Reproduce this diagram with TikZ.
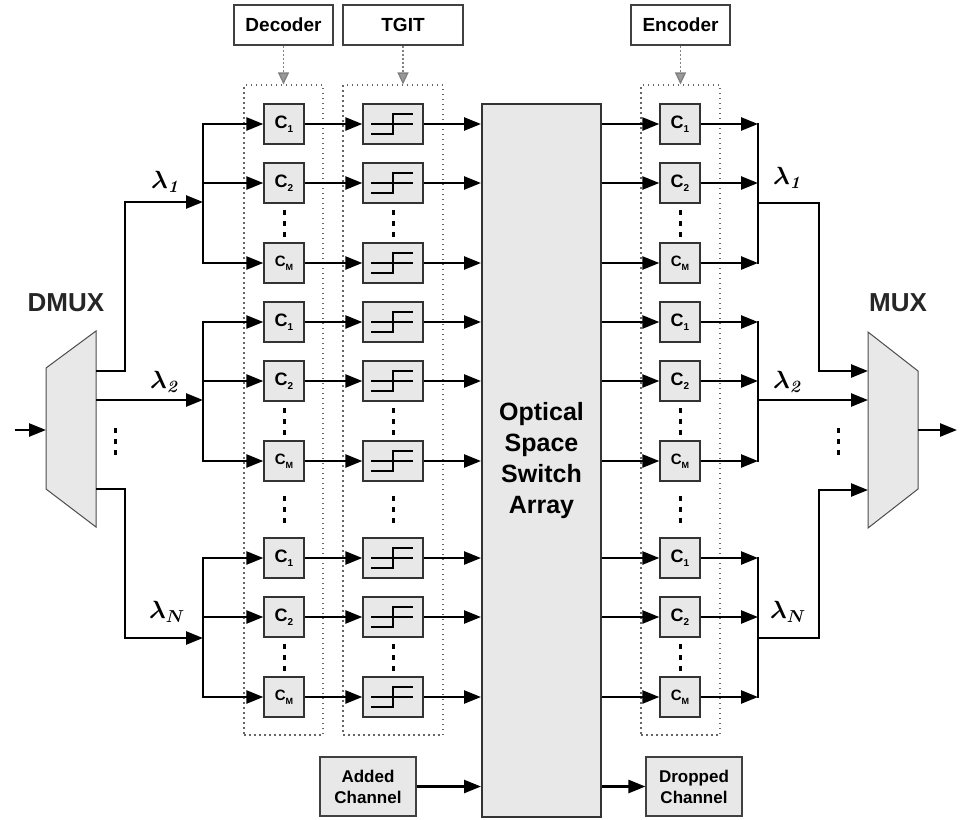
\documentclass[tikz,border=0pt]{standalone}
\usepackage[no-math]{fontspec}
\setmainfont{Liberation Sans}
\usepackage{xcolor}
\usepackage{tikz}
\usetikzlibrary{calc}
\usetikzlibrary{arrows.meta}

\newcommand{\codeC}[1]{{\fontsize{18}{18}\selectfont\bfseries C\raisebox{-4pt}{\fontsize{10}{10}\selectfont #1}}}
\newcommand{\codeCM}{{\fontsize{15}{15}\selectfont\bfseries C\raisebox{-4pt}{\fontsize{9}{9}\selectfont M}}}

\tikzset{
  cbox/.style={draw=black!80, line width=1.3pt, fill=black!9, minimum width=40, minimum height=40, inner sep=0pt},
  tbox/.style={cbox, minimum width=60},
  lblbox/.style={draw=black!75, line width=1.1pt, fill=white, minimum height=40, inner sep=0pt, font=\fontsize{19}{22}\selectfont\bfseries},
  chbox/.style={lblbox, fill=black!9, minimum width=96, minimum height=59, align=center, font=\fontsize{17}{21}\selectfont\bfseries},
  grpbox/.style={draw=black!60, line width=1.1pt, dash pattern=on 1.5pt off 3.5pt, minimum width=79, minimum height=650, inner sep=0pt},
  sig/.style={line width=2.5pt, -{Triangle[length=17pt,width=13pt]}},
  bus/.style={line width=2.8pt, line cap=rect},
  ctrl/.style={draw=black!50, line width=1.3pt, dash pattern=on 2pt off 2pt, -{Triangle[length=12pt,width=11pt,fill=black!40]}},
  dotcol/.style={line width=3pt, dash pattern=on 5pt off 6pt},
  lam/.style={font=\fontsize{23}{27}\selectfont\boldmath},
  mux/.style={draw=black!70, line width=1pt, fill=black!9},
}

\begin{document}
\begin{tikzpicture}[x=1pt,y=-1pt]
\useasboundingbox (0,0) rectangle (968,819);

% Label boxes on top
\node[lblbox, minimum width=99] (declbl) at (283.5,25) {Decoder};
\node[lblbox, minimum width=120] (tgitlbl) at (403,25) {TGIT};
\node[lblbox, minimum width=99] (enclbl) at (680.5,25) {Encoder};

% Dotted groups
\node[grpbox] (decgrp) at (283.5,410) {};
\node[grpbox, minimum width=100] (tgitgrp) at (393,410) {};
\node[grpbox] (encgrp) at (680.5,410) {};

\draw[ctrl] (declbl) -- (decgrp.north);
\draw[ctrl] (tgitlbl) -- (tgitlbl |- tgitgrp.north);
\draw[ctrl] (enclbl) -- (encgrp.north);

% Optical space switch
\node[draw=black!80, line width=2pt, fill=black!9, minimum width=119, minimum height=713, inner sep=0pt,
  align=center, font=\fontsize{25}{31}\selectfont\bfseries] (sw) at (541.5,460.5) {Optical\\Space\\Switch\\Array};

% Rows of decoders, TGITs and encoders
\foreach \grp/\y in {1/124, 2/322, 3/558} {
  \foreach \row/\dy/\txt in {1/0/{\codeC{1}}, 2/59/{\codeC{2}}, M/139/{\codeCM}} {
    \node[cbox] (dec-\grp-\row) at (284,\y+\dy) {\txt};
    \node[tbox] (tg-\grp-\row) at (393,\y+\dy) {};
    \node[cbox] (enc-\grp-\row) at (680,\y+\dy) {\txt};
    \coordinate (din-\grp-\row) at (203,\y+\dy);
    \coordinate (dout-\grp-\row) at (758,\y+\dy);
    \draw[sig] (din-\grp-\row) -- (dec-\grp-\row);
    \draw[sig] (dec-\grp-\row) -- (tg-\grp-\row);
    \draw[sig] (tg-\grp-\row) -- (tg-\grp-\row -| sw.west);
    \draw[sig] (enc-\grp-\row -| sw.east) -- (enc-\grp-\row);
    \draw[sig] (enc-\grp-\row) -- (dout-\grp-\row);
    % step symbol
    \draw[line width=1.5pt] ($(tg-\grp-\row)+(-22,10)$) -- ++(22,0) -- ++(0,-20) -- ++(20,0);
    \draw[line width=1.5pt] ($(tg-\grp-\row)+(-22,0)$) -- ++(42,0);
  }
  \draw[bus] (din-\grp-1) -- (din-\grp-M);
  \draw[bus] (dout-\grp-1) -- (dout-\grp-M);
  \foreach \x in {284,393,680}
    \draw[dotcol] (\x,\y+86) -- (\x,\y+113);
}
\foreach \x in {284,393,680}
  \draw[dotcol] (\x,496) -- (\x,523);

% DMUX
\draw[mux] (46,368) -- (96,331) -- (96,527) -- (46,489) -- cycle;
\node[font=\fontsize{26}{30}\selectfont\bfseries, text=black!85] (dmuxlbl) at (66,303) {DMUX};
\coordinate (src) at (15,430);
\coordinate (dmux-in) at (46,430);
\coordinate (dmux-o1) at (96,371);
\coordinate (dmux-o2) at (96,400);
\coordinate (dmux-oN) at (96,489);
\coordinate (dj1) at (203,202);
\coordinate (dj2) at (203,400);
\coordinate (djN) at (203,638);
\draw[sig] (src) -- (dmux-in);
\draw[sig] (dmux-o1) -| (125,202) -- (dj1);
\draw[sig] (dmux-o2) -- (dj2);
\draw[sig] (dmux-oN) -| (125,638) -- (djN);
\draw[dotcol] (115,428) -- (115,455);

% MUX
\draw[mux] (868,332) -- (918,371) -- (918,489) -- (868,528) -- cycle;
\node[font=\fontsize{26}{30}\selectfont\bfseries, text=black!85] (muxlbl) at (898,303) {MUX};
\coordinate (ej1) at (758,203);
\coordinate (ej2) at (758,400);
\coordinate (ejN) at (758,638);
\coordinate (mux-i1) at (868,371);
\coordinate (mux-i2) at (868,400);
\coordinate (mux-iN) at (868,490);
\coordinate (mux-out) at (918,430);
\coordinate (sink) at (957,430);
\draw[sig] (ej1) -| (819,371) -- (mux-i1);
\draw[sig] (ej2) -- (mux-i2);
\draw[sig] (ejN) -| (819,490) -- (mux-iN);
\draw[sig] (mux-out) -- (sink);
\draw[dotcol] (838,428) -- (838,455);

% Wavelength labels
\node[lam] (lin1) at (166,182) {$\lambda_{\mathit{1}}$};
\node[lam] (lin2) at (165,382) {$\lambda_{\mathit{2}}$};
\node[lam] (linN) at (167,612) {$\lambda_{N}$};
\node[lam] (lout1) at (788,178) {$\lambda_{\mathit{1}}$};
\node[lam] (lout2) at (788,382) {$\lambda_{\mathit{2}}$};
\node[lam] (loutN) at (788,612) {$\lambda_{N}$};

% Added and dropped channels
\node[chbox] (add) at (368,786.5) {Added\\Channel};
\node[chbox] (drop) at (694,786.5) {Dropped\\Channel};
\draw[sig] (add) -- (add -| sw.west);
\draw[sig] (drop -| sw.east) -- (drop);

\end{tikzpicture}
\end{document}
